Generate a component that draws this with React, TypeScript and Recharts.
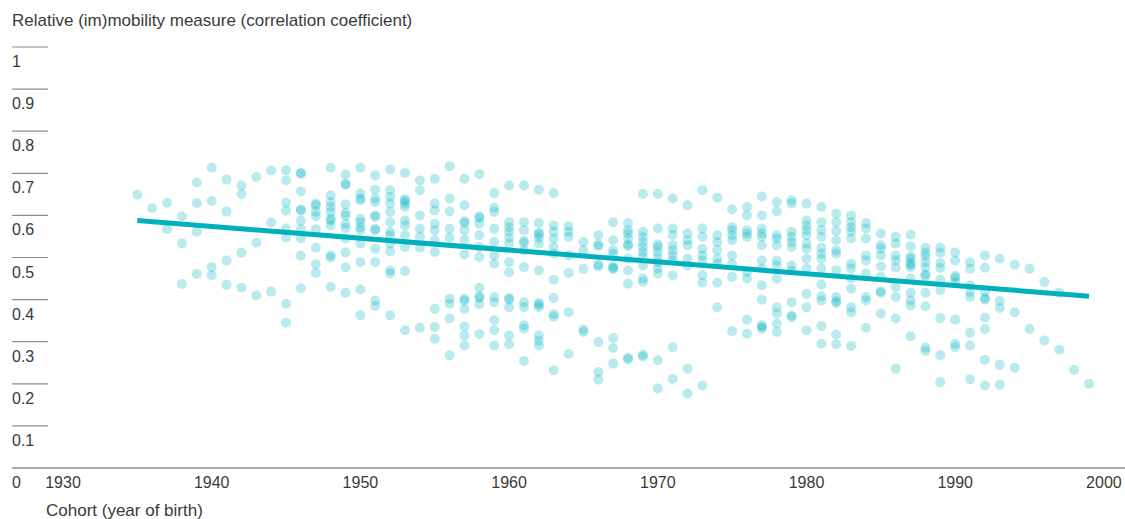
import { ScatterChart, Scatter, XAxis, YAxis } from "recharts";

// cohort (year of birth) per column of dots
const cohortYears = [
  1935, 1936, 1937, 1938, 1939, 1940, 1941, 1942, 1943, 1944,
  1945, 1946, 1947, 1948, 1949, 1950, 1951, 1952, 1953, 1954,
  1955, 1956, 1957, 1958, 1959, 1960, 1961, 1962, 1963, 1964,
  1965, 1966, 1967, 1968, 1969, 1970, 1971, 1972, 1973, 1974,
  1975, 1976, 1977, 1978, 1979, 1980, 1981, 1982, 1983, 1984,
  1985, 1986, 1987, 1988, 1989, 1990, 1991, 1992, 1993, 1994,
  1995, 1996, 1997, 1998, 1999,
];

// correlation coefficients read per cohort
const cohortValues: number[][] = [
  [0.649],
  [0.617],
  [0.63, 0.567],
  [0.598, 0.534, 0.437],
  [0.678, 0.629, 0.561, 0.461],
  [0.713, 0.634, 0.477, 0.458],
  [0.685, 0.609, 0.493, 0.435],
  [0.671, 0.651, 0.511, 0.428],
  [0.691, 0.535, 0.41],
  [0.707, 0.583, 0.419],
  [0.707, 0.683, 0.63, 0.611, 0.569, 0.547, 0.39, 0.345],
  [0.701, 0.699, 0.657, 0.614, 0.611, 0.587, 0.567, 0.545, 0.504, 0.427],
  [0.628, 0.624, 0.608, 0.598, 0.567, 0.523, 0.484, 0.463],
  [0.713, 0.648, 0.632, 0.62, 0.608, 0.592, 0.588, 0.576, 0.505, 0.5, 0.43],
  [0.697, 0.675, 0.673, 0.626, 0.606, 0.599, 0.58, 0.57, 0.545, 0.512, 0.477, 0.416],
  [0.713, 0.652, 0.64, 0.636, 0.592, 0.584, 0.572, 0.565, 0.533, 0.489, 0.424, 0.363],
  [0.695, 0.661, 0.64, 0.632, 0.6, 0.596, 0.568, 0.565, 0.521, 0.489, 0.398, 0.385],
  [0.709, 0.66, 0.644, 0.628, 0.608, 0.584, 0.561, 0.553, 0.533, 0.515, 0.469, 0.462, 0.363],
  [0.701, 0.638, 0.634, 0.628, 0.62, 0.588, 0.576, 0.553, 0.525, 0.468, 0.327],
  [0.683, 0.66, 0.6, 0.568, 0.549, 0.523, 0.333],
  [0.687, 0.628, 0.612, 0.58, 0.565, 0.541, 0.513, 0.378, 0.335, 0.307],
  [0.717, 0.64, 0.61, 0.568, 0.547, 0.402, 0.39, 0.355, 0.268],
  [0.687, 0.624, 0.586, 0.582, 0.565, 0.542, 0.507, 0.402, 0.398, 0.378, 0.336, 0.315, 0.291],
  [0.698, 0.598, 0.594, 0.58, 0.553, 0.525, 0.501, 0.428, 0.408, 0.404, 0.389, 0.318],
  [0.653, 0.618, 0.608, 0.568, 0.537, 0.505, 0.485, 0.406, 0.394, 0.351, 0.327, 0.291],
  [0.671, 0.584, 0.572, 0.561, 0.547, 0.533, 0.489, 0.465, 0.404, 0.4, 0.382, 0.315, 0.294],
  [0.671, 0.584, 0.565, 0.539, 0.535, 0.517, 0.477, 0.394, 0.382, 0.339, 0.331, 0.254],
  [0.661, 0.582, 0.559, 0.555, 0.547, 0.533, 0.469, 0.392, 0.388, 0.382, 0.315, 0.303, 0.291],
  [0.653, 0.576, 0.561, 0.545, 0.525, 0.509, 0.447, 0.404, 0.365, 0.359, 0.232],
  [0.574, 0.561, 0.549, 0.505, 0.463, 0.37, 0.271],
  [0.537, 0.517, 0.473, 0.329, 0.323],
  [0.553, 0.531, 0.527, 0.483, 0.479, 0.299, 0.228, 0.21],
  [0.584, 0.541, 0.517, 0.509, 0.479, 0.475, 0.473, 0.309, 0.285, 0.248],
  [0.582, 0.565, 0.557, 0.545, 0.531, 0.527, 0.497, 0.469, 0.438, 0.262, 0.258],
  [0.651, 0.561, 0.549, 0.537, 0.525, 0.513, 0.501, 0.481, 0.45, 0.442, 0.269, 0.265],
  [0.651, 0.569, 0.531, 0.525, 0.513, 0.5, 0.488, 0.474, 0.462, 0.256, 0.189],
  [0.64, 0.569, 0.553, 0.529, 0.517, 0.505, 0.493, 0.458, 0.287, 0.212],
  [0.624, 0.557, 0.541, 0.529, 0.497, 0.481, 0.236, 0.177],
  [0.66, 0.569, 0.549, 0.521, 0.505, 0.493, 0.458, 0.44, 0.196],
  [0.642, 0.553, 0.537, 0.517, 0.497, 0.485, 0.44, 0.382],
  [0.614, 0.572, 0.565, 0.553, 0.541, 0.505, 0.485, 0.454, 0.325],
  [0.62, 0.6, 0.565, 0.557, 0.549, 0.465, 0.45, 0.352, 0.319],
  [0.645, 0.6, 0.569, 0.557, 0.549, 0.529, 0.493, 0.474, 0.434, 0.4, 0.339, 0.335, 0.331],
  [0.632, 0.61, 0.553, 0.545, 0.529, 0.493, 0.481, 0.45, 0.382, 0.367, 0.343, 0.323],
  [0.636, 0.628, 0.561, 0.549, 0.537, 0.525, 0.481, 0.469, 0.394, 0.362, 0.358],
  [0.628, 0.588, 0.576, 0.565, 0.553, 0.533, 0.521, 0.497, 0.474, 0.414, 0.382, 0.327],
  [0.62, 0.584, 0.565, 0.549, 0.523, 0.509, 0.497, 0.474, 0.436, 0.408, 0.398, 0.337, 0.295],
  [0.604, 0.584, 0.563, 0.541, 0.517, 0.509, 0.47, 0.406, 0.396, 0.392, 0.317, 0.294],
  [0.6, 0.584, 0.572, 0.561, 0.545, 0.485, 0.474, 0.45, 0.426, 0.382, 0.37, 0.29],
  [0.582, 0.569, 0.545, 0.505, 0.493, 0.462, 0.406, 0.398, 0.333],
  [0.557, 0.529, 0.521, 0.505, 0.479, 0.454, 0.42, 0.416, 0.367],
  [0.549, 0.533, 0.505, 0.493, 0.476, 0.43, 0.406, 0.355, 0.236],
  [0.554, 0.527, 0.503, 0.497, 0.487, 0.483, 0.477, 0.45, 0.416, 0.398, 0.386, 0.313],
  [0.523, 0.511, 0.503, 0.489, 0.477, 0.46, 0.456, 0.416, 0.384, 0.286, 0.278],
  [0.523, 0.511, 0.487, 0.475, 0.447, 0.422, 0.356, 0.268, 0.204],
  [0.512, 0.493, 0.456, 0.452, 0.442, 0.352, 0.295, 0.287],
  [0.489, 0.473, 0.434, 0.418, 0.406, 0.321, 0.291, 0.211],
  [0.505, 0.476, 0.418, 0.404, 0.4, 0.357, 0.33, 0.257, 0.196],
  [0.497, 0.397, 0.38, 0.245, 0.198],
  [0.483, 0.37, 0.238],
  [0.473, 0.33],
  [0.442, 0.303],
  [0.416, 0.281],
  [0.233],
  [0.2],
];

// fitted trend
const trendYears = [1935, 1999];
const trendValues = [0.588, 0.408];

const xTicks = [1930, 1940, 1950, 1960, 1970, 1980, 1990, 2000];
const yTicks = [0, 0.1, 0.2, 0.3, 0.4, 0.5, 0.6, 0.7, 0.8, 0.9, 1];

const DOT = "#00b5c2";
const LINE = "#00b1bd";
const TEXT = "#3a3a3a";
const RULE = "#8c8c8c";
const FONT = "'Liberation Sans', Arial, Helvetica, sans-serif";

const points = cohortYears.flatMap((year, i) =>
  cohortValues[i].map((v) => ({ year, v }))
);
const trend = trendYears.map((year, i) => ({ year, v: trendValues[i] }));

function Dot(props: any) {
  const { cx, cy } = props;
  if (cx == null || cy == null) return <g />;
  return <circle cx={cx} cy={cy} r={5} fill={DOT} fillOpacity={0.28} />;
}

function NoDot() {
  return <g />;
}

function YTick(props: any) {
  const { x, y, payload } = props;
  const v = payload.value as number;
  const label = v === 0 ? "0" : v === 1 ? "1" : v.toFixed(1);
  return (
    <g>
      {v > 0 && (
        <line x1={x} x2={x + 36} y1={y} y2={y} stroke={RULE} strokeWidth={1.2} />
      )}
      <text x={x} y={y + 20} fill={TEXT} fontSize={16} fontFamily={FONT}>
        {label}
      </text>
    </g>
  );
}

function XTick(props: any) {
  const { x, y, payload } = props;
  return (
    <text x={x} y={y + 20} fill={TEXT} fontSize={16} fontFamily={FONT} textAnchor="middle">
      {payload.value}
    </text>
  );
}

export default function App() {
  return (
    <div style={{ position: "absolute", left: 0, top: 0, width: 1125, height: 519, background: "#fff" }}>
      <ScatterChart width={1125} height={519} margin={{ top: 47, right: 0, bottom: 21, left: 0 }}>
        <XAxis
          type="number"
          dataKey="year"
          domain={[1926.57, 2001.42]}
          ticks={xTicks}
          interval={0}
          height={30}
          tickSize={0}
          tickMargin={0}
          tickLine={false}
          axisLine={{ stroke: RULE, strokeWidth: 1.5 }}
          tick={<XTick />}
          allowDataOverflow
        />
        <YAxis
          type="number"
          dataKey="v"
          domain={[0, 1]}
          ticks={yTicks}
          interval={0}
          width={12}
          tickSize={0}
          tickMargin={0}
          tickLine={false}
          axisLine={false}
          tick={<YTick />}
        />
        <Scatter data={points} shape={<Dot />} isAnimationActive={false} />
        <Scatter
          data={trend}
          shape={<NoDot />}
          line={{ stroke: LINE, strokeWidth: 5 }}
          isAnimationActive={false}
        />
      </ScatterChart>
      <svg
        width={1125}
        height={519}
        style={{ position: "absolute", left: 0, top: 0, pointerEvents: "none" }}
      >
        <text x={12} y={26} fill={TEXT} fontSize={17} fontFamily={FONT}>
          Relative (im)mobility measure (correlation coefficient)
        </text>
        <text x={46} y={516} fill={TEXT} fontSize={17} fontFamily={FONT}>
          Cohort (year of birth)
        </text>
      </svg>
    </div>
  );
}
